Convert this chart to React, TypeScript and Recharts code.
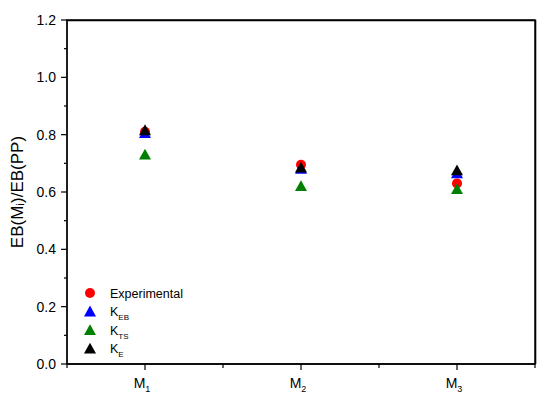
import React from "react";
import {
  ScatterChart,
  Scatter,
  XAxis,
  YAxis,
  ReferenceArea,
} from "recharts";

const positions = [1, 2, 3];
const subscripts = ["1", "2", "3"];
const experimental = [0.81, 0.695, 0.63];
const kEB = [0.805, 0.68, 0.665];
const kTS = [0.73, 0.62, 0.61];
const kE = [0.815, 0.685, 0.675];

const yTicks = [0, 0.1, 0.2, 0.3, 0.4, 0.5, 0.6, 0.7, 0.8, 0.9, 1.0, 1.1, 1.2];
const xTicks = [0.5, 1, 1.5, 2, 2.5, 3, 3.5];

const FONT = "'Liberation Sans', Arial, sans-serif";

const toPoints = (vals: number[]) =>
  positions.map((p, i) => ({ x: p, y: vals[i] }));

const Circle = (props: any) => {
  const { cx, cy, fill } = props;
  return <circle cx={cx} cy={cy} r={5} fill={fill} />;
};

const Triangle = (props: any) => {
  const { cx, cy, fill } = props;
  const s = 6;
  return (
    <path
      d={`M${cx},${cy - s} L${cx + s},${cy + s * 0.8} L${cx - s},${cy + s * 0.8} Z`}
      fill={fill}
    />
  );
};

const YTick = (props: any) => {
  const { x, y, payload } = props;
  const major = Math.round(payload.value * 10) % 2 === 0;
  return (
    <g>
      <line x1={x} x2={x - (major ? 6 : 3)} y1={y} y2={y} stroke="#000" strokeWidth={1.2} />
      {major && (
        <text x={x - 11} y={y + 5} textAnchor="end" fontSize={14} fontFamily={FONT} fill="#000">
          {payload.value.toFixed(1)}
        </text>
      )}
    </g>
  );
};

const XTick = (props: any) => {
  const { x, y, payload } = props;
  const major = Number.isInteger(payload.value);
  const idx = positions.indexOf(payload.value);
  return (
    <g>
      <line x1={x} x2={x} y1={y} y2={y + (major ? 6 : 4)} stroke="#000" strokeWidth={1.2} />
      {major && idx >= 0 && (
        <text x={x - 3} y={y + 24} textAnchor="middle" fontSize={14} fontFamily={FONT} fill="#000">
          M
          <tspan fontSize={9} dy={4}>
            {subscripts[idx]}
          </tspan>
        </text>
      )}
    </g>
  );
};

const legendItems = [
  { label: "Experimental", sub: "", color: "#ff0000", shape: "circle" },
  { label: "K", sub: "EB", color: "#0000ff", shape: "triangle" },
  { label: "K", sub: "TS", color: "#008000", shape: "triangle" },
  { label: "K", sub: "E", color: "#000000", shape: "triangle" },
];

const Overlay = () => (
  <svg width={550} height={403} style={{ position: "absolute", left: 0, top: 0, pointerEvents: "none" }}>
    {/* top and right edges of the plot frame */}
    <path d="M67,20.5 L535.5,20.5 L535.5,364" fill="none" stroke="#000" strokeWidth={1.6} />
    {legendItems.map((it, i) => {
      const cy = 293 + i * 18.6;
      return (
        <g key={i}>
          {it.shape === "circle" ? (
            <circle cx={90} cy={cy} r={5} fill={it.color} />
          ) : (
            <path d={`M90,${cy - 6} L96,${cy + 4.8} L84,${cy + 4.8} Z`} fill={it.color} />
          )}
          <text x={110} y={cy + 4.5} fontSize={12.5} fontFamily={FONT} fill="#000">
            {it.label}
            {it.sub && (
              <tspan fontSize={8} dy={4}>
                {it.sub}
              </tspan>
            )}
          </text>
        </g>
      );
    })}
  </svg>
);

export default function App() {
  return (
    <div style={{ position: "absolute", left: 0, top: 0, width: 550, height: 403, background: "#fff" }}>
      <ScatterChart width={550} height={403} margin={{ top: 20, right: 15, bottom: 0, left: 0 }}>
        <XAxis
          type="number"
          dataKey="x"
          domain={[0.5, 3.5]}
          ticks={xTicks}
          interval={0}
          tick={<XTick />}
          tickLine={false}
          tickSize={0}
          tickMargin={0}
          height={39}
          axisLine={{ stroke: "#000", strokeWidth: 1.3 }}
        />
        <YAxis
          type="number"
          dataKey="y"
          domain={[0, 1.2]}
          ticks={yTicks}
          interval={0}
          tick={<YTick />}
          tickLine={false}
          tickSize={0}
          tickMargin={0}
          width={67}
          axisLine={{ stroke: "#000", strokeWidth: 1.3 }}
          label={{
            value: "EB(Mᵢ)/EB(PP)",
            angle: -90,
            position: "insideLeft",
            offset: 17,
            style: { textAnchor: "middle", fontSize: 17, fontFamily: FONT, fill: "#000" },
          }}
        />
        <ReferenceArea
          x1={0.5}
          x2={3.5}
          y1={0}
          y2={1.2}
          fill="none"
          stroke="#000"
          strokeWidth={1.3}
          ifOverflow="visible"
        />
        <Scatter name="Experimental" data={toPoints(experimental)} fill="#ff0000" shape={<Circle />} isAnimationActive={false} />
        <Scatter name="KEB" data={toPoints(kEB)} fill="#0000ff" shape={<Triangle />} isAnimationActive={false} />
        <Scatter name="KTS" data={toPoints(kTS)} fill="#008000" shape={<Triangle />} isAnimationActive={false} />
        <Scatter name="KE" data={toPoints(kE)} fill="#000000" shape={<Triangle />} isAnimationActive={false} />
      </ScatterChart>
      <Overlay />
    </div>
  );
}
